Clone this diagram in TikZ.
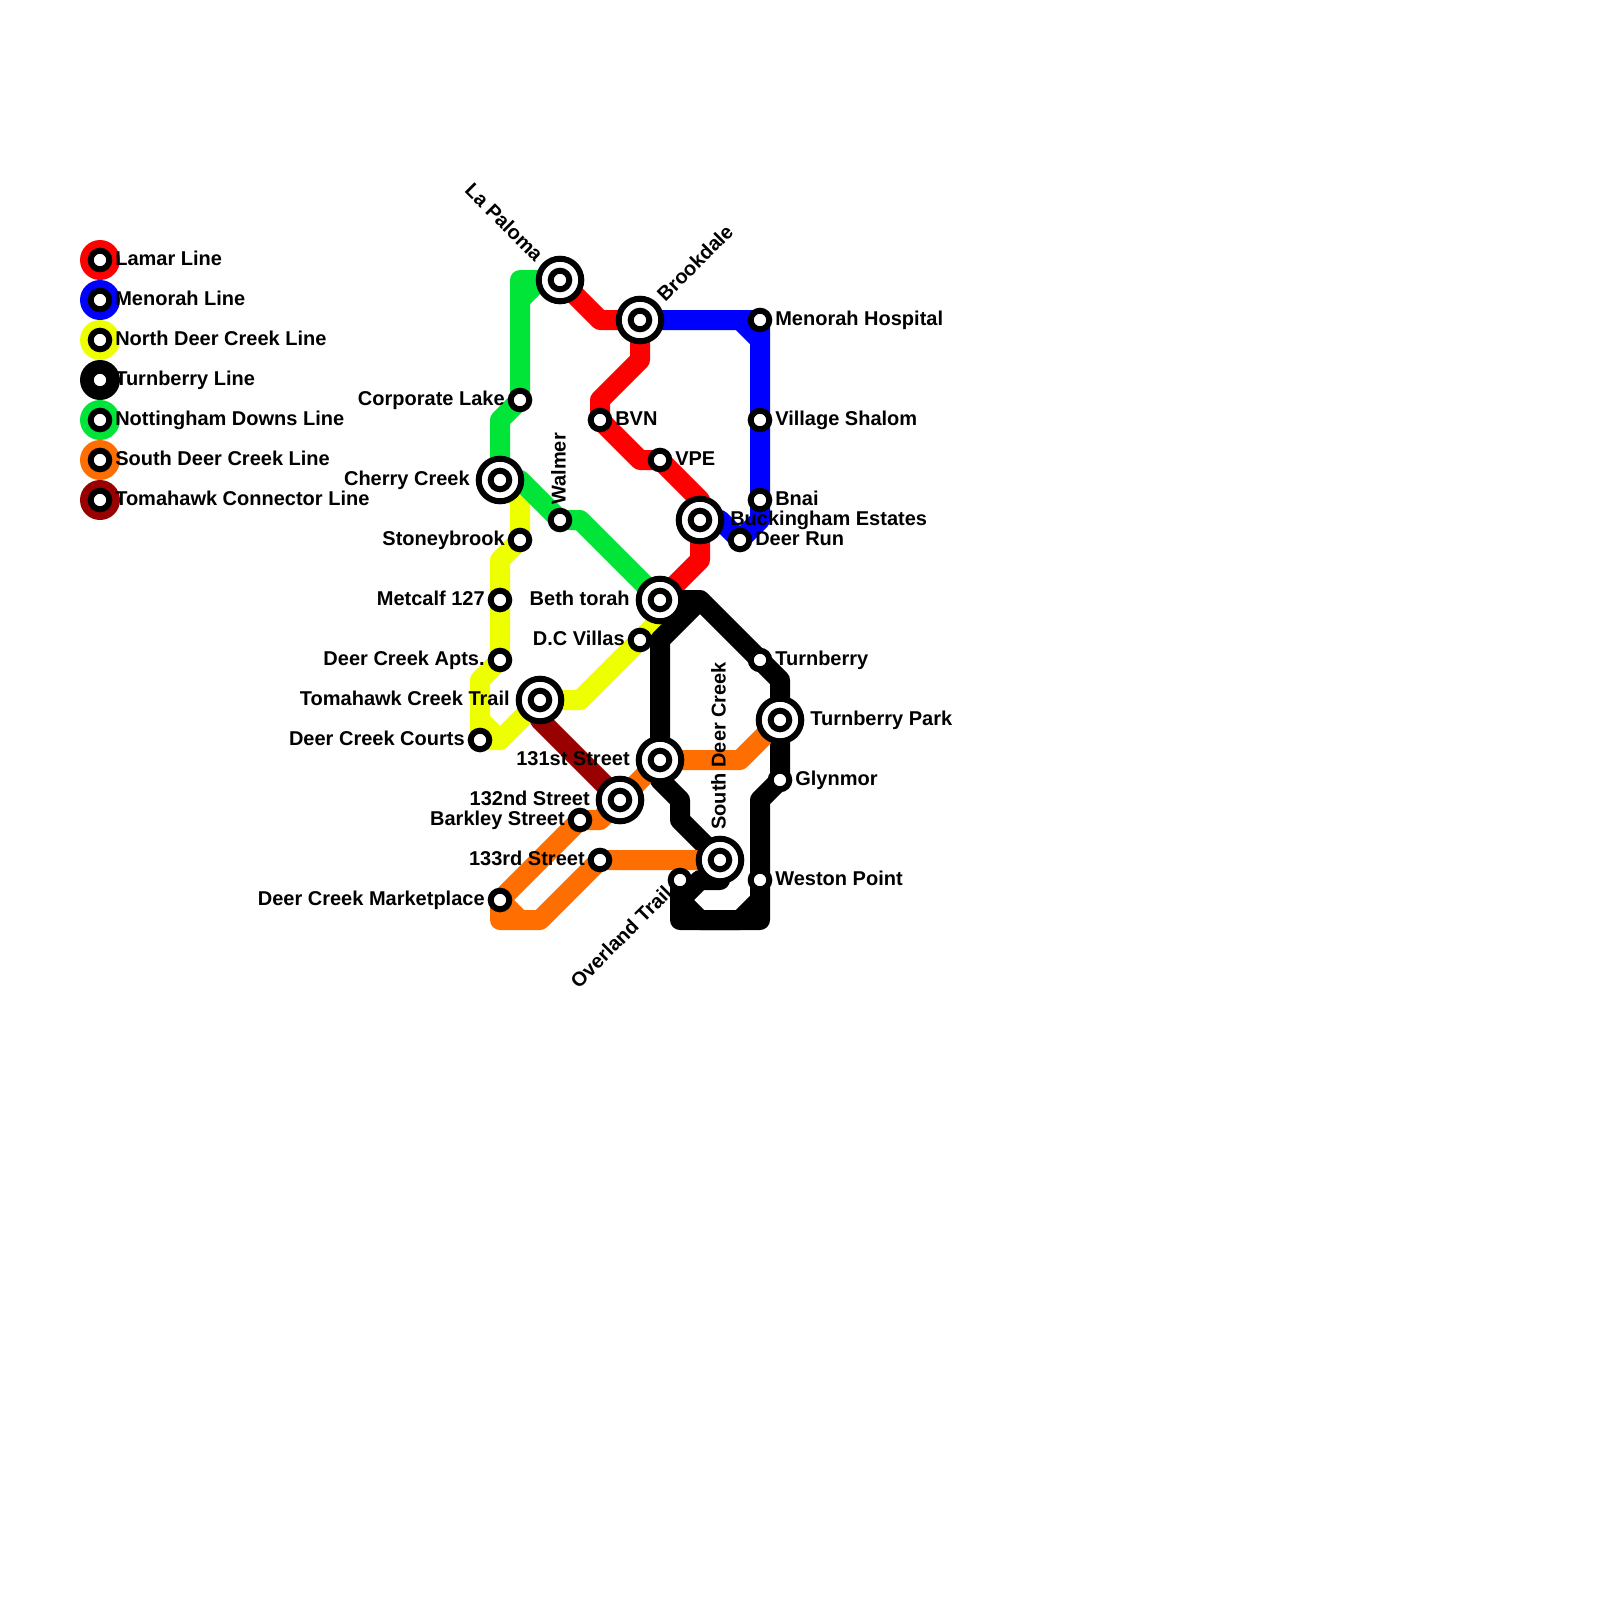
\documentclass[tikz,border=0pt]{standalone}
\usepackage{fontspec}
\usepackage{xcolor}
\setmainfont{Liberation Sans}
\usetikzlibrary{positioning,backgrounds}
\definecolor{lamarRed}{RGB}{255,0,0}
\definecolor{menorahBlue}{RGB}{0,0,255}
\definecolor{deerYellow}{RGB}{238,255,0}
\definecolor{nottGreen}{RGB}{0,229,56}
\definecolor{southOrange}{RGB}{255,110,0}
\definecolor{tomaRed}{RGB}{153,0,0}
\tikzset{
  stop/.style={circle, draw=black, fill=white, line width=1.5mm,
               minimum size=4.64mm, inner sep=0pt},
  hub/.style={circle, draw=black, fill=white, line width=1.5mm,
              minimum size=10.64mm, inner sep=0pt},
  keydisc/.style={circle, minimum size=10mm, inner sep=0pt},
  lbl/.style={font=\fontsize{14.23}{17}\selectfont\bfseries, inner sep=0pt,
              text height=4mm, text depth=1.25mm},
  route/.style={line width=5mm, line join=round},
}
\newcommand{\stopGap}{3.75mm}
\newcommand{\hubGap}{7.5mm}
\newcommand{\Stop}[5][]{% {name}{at}{label}{place}
  \node[stop] (#2) at (#3) {};
  \node[lbl,#5 of #2.center,#1] (#2Lbl) {#4};}
\newcommand{\Hub}[5][]{% {name}{at}{label}{place}
  \node[hub] (#2) at (#3) {};
  \node[stop] (#2In) at (#3) {};
  \node[lbl,#5 of #2.center,#1] (#2Lbl) {#4};}
\newcommand{\LineKey}[4]{% {name}{at}{colour}{label}
  \node[keydisc,fill=#3] (#1) at (#2) {};
  \node[stop] (#1In) at (#2) {};
  \node[lbl,right=\stopGap of #1.center] (#1Lbl) {#4};}

\begin{document}
\begin{tikzpicture}[x=5mm,y=-5mm]
  \useasboundingbox (0,0) rectangle (80,80);
  % key
  \LineKey{keyLamar}{5,13}{lamarRed}{Lamar Line}
  \LineKey{keyMenorah}{5,15}{menorahBlue}{Menorah Line}
  \LineKey{keyDeerN}{5,17}{deerYellow}{North Deer Creek Line}
  \LineKey{keyTurn}{5,19}{black}{Turnberry Line}
  \LineKey{keyNott}{5,21}{nottGreen}{Nottingham Downs Line}
  \LineKey{keyDeerS}{5,23}{southOrange}{South Deer Creek Line}
  \LineKey{keyToma}{5,25}{tomaRed}{Tomahawk Connector Line}
  % stations
  \Hub[rotate=-45,anchor=east]{laPaloma}{28,14}{La Paloma}{above left=5.3mm and 5.3mm}
  \Hub[rotate=45,anchor=west]{brookdale}{32,16}{Brookdale}{above right=5.3mm and 5.3mm}
  \Stop{menHospital}{38,16}{Menorah Hospital}{right=\stopGap}
  \Stop{corpLake}{26,20}{Corporate Lake}{left=\stopGap}
  \Stop{bvn}{30,21}{BVN}{right=\stopGap}
  \Stop{vilShalom}{38,21}{Village Shalom}{right=\stopGap}
  \Stop{vpe}{33,23}{VPE}{right=\stopGap}
  \Hub{cherry}{25,24}{Cherry Creek}{left=\hubGap}
  \Stop{bnai}{38,25}{Bnai}{right=\stopGap}
  \Stop[rotate=90,anchor=west]{walmer}{28,26}{Walmer}{above=\stopGap}
  \Hub{buckingham}{35,26}{Buckingham Estates}{right=\hubGap}
  \Stop{stoneybrook}{26,27}{Stoneybrook}{left=\stopGap}
  \Stop{deerRun}{37,27}{Deer Run}{right=\stopGap}
  \Stop{metcalf}{25,30}{Metcalf 127}{left=\stopGap}
  \Hub{bethTorah}{33,30}{Beth torah}{left=\hubGap}
  \Stop{dcVillas}{32,32}{D.C Villas}{left=\stopGap}
  \Stop{deerApts}{25,33}{Deer Creek Apts.}{left=\stopGap}
  \Stop{turnberry}{38,33}{Turnberry}{right=\stopGap}
  \Hub{tomahawk}{27,35}{Tomahawk Creek Trail}{left=\hubGap}
  \Hub{turnPark}{39,36}{Turnberry Park}{right=\hubGap}
  \Stop{deerCourts}{24,37}{Deer Creek Courts}{left=\stopGap}
  \Hub{stOne}{33,38}{131st Street}{left=\hubGap}
  \Stop{glynmor}{39,39}{Glynmor}{right=\stopGap}
  \Hub{stTwo}{31,40}{132nd Street}{left=\hubGap}
  \Stop{barkley}{29,41}{Barkley Street}{left=\stopGap}
  \Stop{stThree}{30,43}{133rd Street}{left=\stopGap}
  \Hub[rotate=90,anchor=west]{southDeer}{36,43}{South Deer Creek}{above=\hubGap}
  \Stop[rotate=45,anchor=east]{overland}{34,44}{Overland Trail}{below left=2.65mm and 2.65mm}
  \Stop{weston}{38,44}{Weston Point}{right=\stopGap}
  \Stop{marketplace}{25,45}{Deer Creek Marketplace}{left=\stopGap}
  \coordinate (deerFork) at (24,36);
  \coordinate (deerJoin) at (25,37);
  \coordinate (nottFork) at (26,15);
  \coordinate (nottJoin) at (27,14);
  \coordinate (southJoin) at (26,46);
  \coordinate (turnJoin) at (38,45);
  % routes, under the stations
  \begin{pgfonlayer}{background}
    \draw[route,lamarRed] (laPaloma.center) -- (30,16) -- (brookdale.center) -- (32,18)
      -- (30,20) -- (bvn.center) -- (32,23) -- (vpe.center) -- (35,25)
      -- (buckingham.center) -- (35,28) -- (bethTorah.center);
    \draw[route,menorahBlue] (brookdale.center) -- (37,16) -- (38,17) -- (menHospital.center)
      -- (vilShalom.center) -- (bnai.center) -- (38,26) -- (deerRun.center) -- (36,26)
      -- (buckingham.center);
    \draw[route,menorahBlue] (37,16) -- (menHospital.center) -- (38,17);
    \draw[route,deerYellow] (cherry.center) -- (26,25) -- (stoneybrook.center) -- (25,28)
      -- (metcalf.center) -- (deerApts.center) -- (24,34) -- (deerCourts.center)
      -- (deerJoin) -- (tomahawk.center) -- (29,35) -- (dcVillas.center) -- (33,31)
      -- (bethTorah.center);
    \draw[route,deerYellow] (deerFork) -- (deerJoin);
    \draw[route,black] (bethTorah.center) -- (35,30) -- (turnberry.center) -- (39,34)
      -- (turnPark.center) -- (glynmor.center) -- (38,40) -- (weston.center) -- (38,46)
      -- (34,46) -- (overland.center);
    \draw[route,black] (35,30) -- (33,32) -- (stOne.center) -- (33,39) -- (34,40) -- (34,41)
      -- (southDeer.center) -- (36,44) -- (35,44) -- (34,45) -- (35,46) -- (37,46)
      -- (turnJoin);
    \draw[route,nottGreen] (laPaloma.center) -- (26,14) -- (corpLake.center) -- (25,21)
      -- (cherry.center) -- (26,24) -- (walmer.center) -- (29,26) -- (bethTorah.center);
    \draw[route,nottGreen] (nottFork) -- (nottJoin);
    \draw[route,southOrange] (turnPark.center) -- (37,38) -- (stOne.center) -- (stTwo.center)
      -- (30,41) -- (barkley.center) -- (marketplace.center) -- (25,46) -- (27,46)
      -- (stThree.center) -- (southDeer.center);
    \draw[route,southOrange] (marketplace.center) -- (southJoin);
    \draw[route,tomaRed] (tomahawk.center) -- (27,36) -- (stTwo.center);
  \end{pgfonlayer}
\end{tikzpicture}
\end{document}
